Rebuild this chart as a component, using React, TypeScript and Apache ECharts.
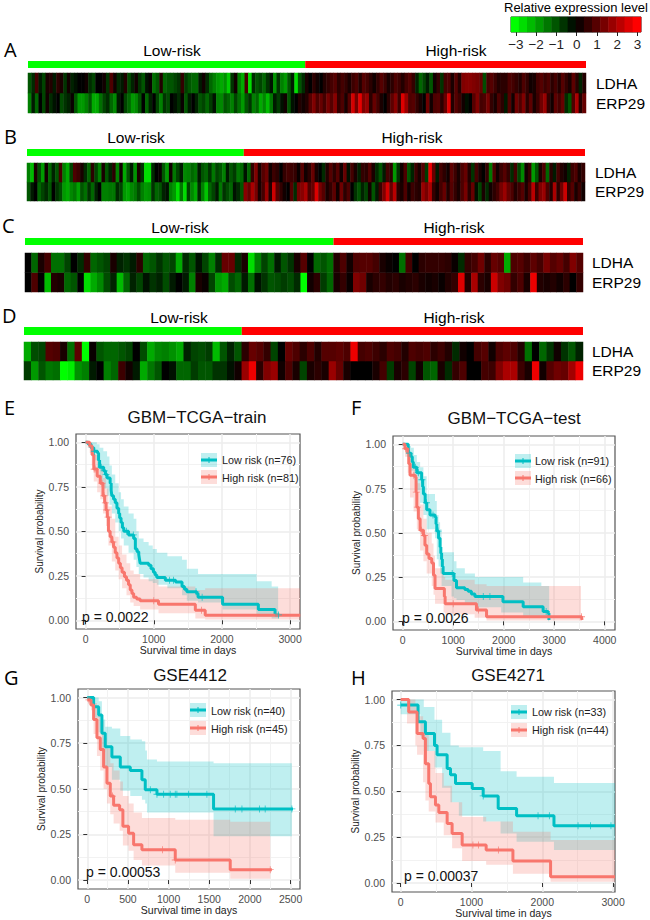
import React, { useEffect, useRef } from "react";
import * as echarts from "echarts";

const FONT = "'Liberation Sans', Arial, sans-serif";
const TEAL = "#00BFC4";
const RED = "#F8766D";

const geneRows = ["ERP29", "LDHA"];
const legendScale = [-3, -2.6, -2.2, -1.8, -1.4, -1, -0.6, -0.2, 0.2, 0.6, 1, 1.4, 1.8, 2.2, 2.6, 3];
const legendTicks = [-3, -2, -1, 0, 1, 2, 3];

const aLdhaLow = [
  -1, -0.5, 0.8, -0.3, -0.8, 0.3, 0.4, -0.3, 0.5, 0.3,
  -0.6, 0.2, -0.4, -0.2, 0, 0, 0.2, -0.5, -0.8, 0,
  0, 0.2, -0.6, 0.9, 0.2, -0.5, -0.3, 0.4, -0.9, -0.4,
  0.2, -0.6, -1, -0.2, 0.1, -1.3, -1, 0.4, -1.2, -1,
  -1, -0.8, -0.6, 0.6, -0.7, -1, -1.2, -1.2, -0.3, 0.2,
  -0.5, -1.2, -1.5, -1.8, -2, -1.7, -2.4, -0.6, 0.2, -1.5,
  -2, 0.8, -2.6, -0.5, -1, -0.8, -1.2, -0.6, -0.2, -1.7,
  -0.6, -1.5, -1.8, -1, -0.3, -2.6, -1, -0.5,
];
const aLdhaHigh = [
  0.3, 0, 0.5, 0.2, 0, 0.4, 0.6, 0.8, 1, 0.5,
  0.8, 0.6, 0.3, 0.7, 0.9, 0.4, 1, 0.8, 0.5, 0.2,
  0.6, 1, 0.7, 0.3, 0.5, 0.9, 0.7, 0.4, 0.8, 1,
  0.6, -0.4, -1.2, -0.8, -0.3, -1, 0.2, 0.6, -0.6, 0.8,
  0.9, 0.3, 1, 0.4, 1.5, 1.6, 1.6, 1.5, 1.4, 1.2,
  -0.9, 0.8, 1, 0.7, 0.4, 0.5, 0.5, 0.9, 0.8, 0.6,
  0.4, 0.9, 0.6, 0.2, 0.3, 0.8, 1, 0.7, 0.9, 0.5,
  0.8, 0.4, 1, 0.6, 0.3, 1.1, 0.5, -0.4, 0.4,
];
const aErpLow = [
  -1.5, -0.3, -1.2, 0, -0.8, 0.2, -0.5, -0.2, 0, -0.9,
  -0.6, -0.4, 0.1, -1, -1.8, -1.8, -1.5, -1, -2, -2,
  -1.3, -0.8, -0.5, -1.2, -1.6, -0.3, 0, -0.8, -1.2, -1.8,
  -1.6, -1, 0, -1.2, -0.4, 0, -0.8, -1.5, -0.6, -0.9,
  0, -0.2, -0.5, 0.1, -1, -0.3, 0, -0.4, -1, -0.8,
  -1.2, -0.7, -0.2, -1.5, -1.6, -1, -1.2, -1.5, -0.8, -1.3,
  -1.8, -1, -0.6, -1.5, -1.2, -2, -1.6, -2.2, -1.4, -0.3,
  -0.7, -0.2, 0.2, -1, -0.2, 0, 0.4, 0.2,
];
const aErpHigh = [
  0.4, 1, 1.5, 0.9, 1.2, 0.8, 1.4, 1, 1.6, 0.6,
  0.9, 0.3, 1, 2.5, 1.4, 2.7, 1.5, 1.8, 0.5, 1.2,
  0.8, 0.3, 0, 0.5, 1.1, 1.6, 0.7, 2.6, 1.8, 0.9,
  1, 0.6, 0.3, 0, 1.3, 0.2, 0.9, 1, 0.5, 1.2,
  2.6, 0.4, 1, 0.7, 0.2, -0.2, 0, 1, 1.5, 0.8,
  0.9, 1.4, 0.6, 0.3, 0.9, 0.5, -0.3, 1, 0.2, 1.3,
  0.9, 1.5, 0.5, 1.1, 0.3, 0.7, 1.3, 1.8, 0.6, 0.2,
  1.1, 0.8, 1.2, -0.5, -1, 0.9, 2, 0.4, 1.2,
];

const bLdhaLow = [
  -1.5, -2.2, 0.3, -0.9, -1.8, 0.2, -1.2, -0.4, -1, 0.8,
  -1.5, -2, -0.8, 0.9, 0.7, 0.3, -0.5, -1.2, 0.5, -0.8,
  -1.5, 0.3, -1, -0.4, 0.5, -1.5, 0.2, -2, -1, -0.3,
  -1.7, 0.3, -0.6, -2.6, -2.6, -0.5, 0, 0.1, -1, -1.8,
  0.2, -1.4, -0.8, -0.3, -1.6, -1.5, -1.2, -1.4, -0.3, -1,
  -1.2, -0.6, -1.4, -0.8, -1, -1.5, -0.3, -1, -0.7, -1.4,
  -1.2,
];
const bLdhaHigh = [
  -0.2, -1.2, 0.6, 1.5, 0.3, 1, 1.3, 0.2, 0.7, 0.5,
  0, 0.6, 0.8, 0.7, 0.6, 0.1, 1, 0.2, 0.5, 1.2,
  0.3, 0, -0.5, 0.4, 1, 0.5, 1, 0.2, 1.2, -0.2,
  0.8, 0.3, -0.4, 0.6, 0.5, 1, 0.3, -0.5, -1, -0.3,
  0.8, 0.5, -1.8, -0.6, 0.2, 0.9, -1, -0.4, 0.7, 0.3,
  1, -0.7, 2.8, 1.2, -0.3, 0.8, 0.5, 0.2, 1.1, 0.7,
  0.3, 0.9, 1.2, 0.4, -0.6, 0.8, 0.3, 0, 0.6, -1.4,
  0.9, 0.2, 0.7, 1, 0.6, -0.5, 0.8, -0.8, -1.6, 0.2,
  0.6, -1.8, -1, 0.3, 0.9, -1.2, 0.5, -0.3, 0.8, 0.4,
  0.2, -0.4, 0.7, 0.9, 0.3, 0.6,
];
const bErpLow = [
  -1, -0.3, 0, -1.2, -0.8, -0.5, -1, 0, -0.6, -0.9,
  -1.8, -2, -1.6, -1.4, -1.9, -1, -1.3, -0.6, -1.2, -0.4,
  0, -1.5, -1.5, -1.4, -1.4, -0.5, -0.8, -1.8, -2, -1.6,
  -1.4, -0.9, -1.5, -1.8, -1.7, -0.6, -1.2, -1, -0.4, -0.2,
  -1.5, -1.8, -2.6, -1.4, -2.6, -0.8, -1.6, -2, -0.5, -1.5,
  -2.3, -1.2, -0.8, -0.3, -1.4, -0.6, -0.9, -1.2, -0.2, -0.5,
  -1,
];
const bErpHigh = [
  1.6, 1.2, 2, 1.4, 0.3, 0.8, 1.8, 0.4, 2.4, 1,
  0.6, 0.2, 0, 1, -0.5, 1.4, 1.6, 2, 0.9, 1.2,
  2.6, 1.4, 1, 0.3, 0.6, 1.1, 0.2, 1.3, 0.5, 0.9,
  0, -0.6, -1, -0.4, -0.8, 0.2, -1, -0.3, 0.7, 1.5,
  2.5, 1.2, 2.2, 0.5, 0.3, 0.9, 0.2, 0.7, 0.5, 0.4,
  1.8, 1.4, 2, 0.6, 0.2, 0.8, 1.2, 0.4, 1, 0.6,
  0.3, 0.9, 1.4, 0.5, 1.2, -0.2, -0.8, 0.3, -0.5, 0.2,
  0.5, 0.8, 1.4, 1.8, 1.2, 0.9, 0.4, 0.7, 1, 0.3,
  0.9, 2.2, 0.7, 1.5, 1.8, 0.9, 0.4, 2, 0.5, 1.3,
  2.4, 0.6, 1, 0.3, 0.7, 0.2,
];

const cLdhaLow = [
  0, -1.2, 0.3, 0.8, -1.3, -1.3, -0.8, 0, -0.5, 0.6,
  -1.2, -1, -0.8, 0.3, -0.4, -0.6, -0.3, 0.5, -1.2, -1,
  -0.6, -1, -0.8, -2, -0.5, -1, -0.2, -0.8, -1.5, -0.5,
  1.2, 1.2, -0.5, 0.3, -2.6, -1.5, -0.8, -1.3, -0.3, -1,
  -0.6, 0.3, 1, 0, -1.2, -1, -1.3,
];
const cLdhaHigh = [
  0.4, 0.9, 0.2, 0.9, 1, 1, 0.8, 0.3, 0.1, 0,
  -1.3, 0.8, 0, 0.5, 0.6, 0.6, 0.6, 0.5, 0.1, -0.5,
  0.6, 0.8, 1.3, 0.5, 1.2, 1, -2, 0.9, 1, 0.7,
  1.1, 0.8, 1.4, 1, 1.2, 0.8, 1.5, 1,
];
const cErpLow = [
  0, 0.9, 0, -2.2, 0.4, 0.3, -1.2, -1, 0, -2.6,
  -2, -1.6, -0.9, -0.4, -2.2, -1.2, -0.4, -0.8, -0.2, -0.6,
  -0.4, -0.9, -0.3, 0, -0.3, -1.5, 0.3, 0.1, -0.8, -1.8,
  -2, -0.9, -1.2, -0.3, -1.3, -0.2, -0.6, -1, -0.9, -0.7,
  -0.9, -0.5, -3, 0.2, 0.5, -0.7, -1.2,
];
const cErpHigh = [
  0.3, 0.6, 0.1, 1.5, 1.3, 0.3, 0.5, 0.6, 0.4, 0.5,
  0.3, 0.4, 0.5, 0.3, 0.2, 0.3, 0.1, 0.4, 0.6, 2.6,
  0.4, 2, 0.5, 0.3, 2.4, 1.5, 1.3, 0.6, 0.9, 0.3,
  2.8, 0.4, 0.3, 0.4, 0.2, 0.5, 0, 0.6,
];

const dLdhaLow = [
  -2, -0.9, -0.8, 1, 0.9, 0.3, -1.3, 1.1, -3, 0.1,
  -1, -1.2, -1.2, -1, -0.8, 0, -0.9, -2, -1.6, -1.5,
  -1.7, -2, -0.4, -0.8, -0.9, -0.7, -2.2, -1, -0.4, -1,
];
const dLdhaHigh = [
  0.5, 1.2, 1, 0.6, -0.8, 0, 1.2, 0.9, 0.5, 0.9,
  0.4, 1, 1, 1.1, 0.9, 2.8, 0.8, 0.9, 0.7, 0.5,
  0.9, 0.8, 0.4, 0.9, 0.8, 0.9, 0.5, 0.7, 0.4, -0.5,
  0.2, 0, 0.8, 1, 0.2, 0.9, 1.1, 0.9, 0.4, -1.3,
  0, -1.2, -0.6, 0.2, -0.6, -1, -0.4,
];
const dErpLow = [
  -0.7, -1.8, -1, -1.4, -1.3, -3, -2.8, -1.7, -1.5, -0.3,
  0, -1.5, -1.2, 0.7, 0.2, -0.3, -2, -1.4, -1, 0,
  -0.2, -1.2, -1.2, -0.7, -1, -1, -0.6, -0.6, -0.2, 0.2,
];
const dErpHigh = [
  1.8, 2.8, 0.5, 1.5, 1.8, 0.2, 0.9, 0.3, -0.8, 0.3,
  0.5, 0.3, 1.8, 1.2, 0.3, 0, 0, 0, 0.3, 0.8,
  -0.7, 0.3, 0.5, -0.8, 0.2, -1, -1.2, 0.3, -0.5, 0.6,
  0.9, 0, 0, 0.8, 0.7, 1.5, 2, 2, 0.7, 0.3,
  2.8, 0.2, 1, 1.3, 1.2, 1.9, 2.8,
];

// survival curves: [day, probability]
const eLow = [[0,1],[40,0.99],[80,0.97],[120,0.95],[175,0.94],[190,0.9],[205,0.86],[265,0.84],[290,0.82],[315,0.8],[360,0.77],[375,0.73],[385,0.7],[410,0.68],[435,0.66],[460,0.63],[485,0.6],[500,0.575],[520,0.55],[540,0.52],[560,0.5],[630,0.48],[705,0.46],[730,0.4],[755,0.385],[780,0.37],[790,0.345],[800,0.32],[925,0.31],[960,0.29],[995,0.27],[1020,0.255],[1045,0.24],[1170,0.225],[1320,0.215],[1415,0.19],[1450,0.175],[1485,0.16],[1630,0.15],[1650,0.13],[1975,0.13],[2010,0.09],[2510,0.09],[2535,0.06],[2730,0.06],[2780,0.03],[2845,0.03]];
const eHigh = [[0,1],[60,0.98],[95,0.93],[120,0.85],[170,0.81],[215,0.77],[255,0.7],[280,0.66],[300,0.62],[318,0.58],[335,0.5],[360,0.47],[385,0.44],[410,0.41],[435,0.38],[460,0.35],[485,0.32],[510,0.295],[535,0.27],[570,0.245],[600,0.225],[630,0.2],[655,0.17],[680,0.15],[705,0.13],[750,0.12],[800,0.11],[1070,0.09],[1610,0.057],[1755,0.028],[3150,0.028]];
const fLow = [[0,1],[80,1],[110,0.95],[165,0.93],[190,0.9],[210,0.87],[280,0.84],[375,0.8],[395,0.76],[410,0.72],[445,0.67],[475,0.63],[540,0.6],[640,0.59],[660,0.55],[675,0.51],[710,0.47],[740,0.42],[755,0.385],[770,0.35],[785,0.31],[800,0.27],[965,0.27],[1015,0.23],[1065,0.19],[1230,0.18],[1295,0.17],[1360,0.155],[1430,0.14],[1950,0.14],[1985,0.11],[2350,0.11],[2385,0.083],[2745,0.083],[2780,0.055],[2880,0.045],[2895,0.008]];
const fHigh = [[0,1],[45,0.975],[100,0.95],[120,0.89],[145,0.825],[245,0.815],[265,0.73],[280,0.645],[310,0.58],[345,0.515],[410,0.485],[440,0.43],[475,0.38],[520,0.355],[575,0.33],[610,0.26],[640,0.185],[810,0.185],[825,0.14],[840,0.1],[1425,0.1],[1460,0.064],[1630,0.064],[1660,0.026],[3540,0.026],[3550,0.008]];
const gLow = [[0,1],[78,0.95],[140,0.905],[180,0.805],[221,0.73],[303,0.675],[406,0.62],[529,0.6],[672,0.55],[713,0.495],[857,0.47],[1553,0.39],[2530,0.39]];
const gHigh = [[0,0.987],[45,0.96],[78,0.88],[119,0.78],[160,0.715],[201,0.62],[242,0.53],[283,0.46],[324,0.41],[398,0.385],[438,0.295],[508,0.257],[570,0.193],[672,0.166],[1082,0.11],[1758,0.057],[2270,0.057]];
const hLow = [[0,0.97],[245,0.88],[278,0.88],[349,0.815],[477,0.75],[514,0.7],[585,0.7],[656,0.625],[703,0.59],[774,0.543],[1010,0.515],[1165,0.475],[1377,0.406],[1637,0.367],[2165,0.312],[3027,0.312]];
const hHigh = [[0,1],[89,1],[113,0.933],[207,0.933],[231,0.815],[316,0.788],[349,0.65],[396,0.543],[420,0.47],[491,0.425],[538,0.385],[608,0.385],[656,0.325],[726,0.27],[844,0.27],[868,0.207],[1207,0.18],[1585,0.12],[2117,0.034],[3027,0.034]];

// confidence bands: [day, lower, upper]
const eLowBand = [[0,1,1],[40,0.97,1],[80,0.93,1],[120,0.9,1],[165,0.85,0.99],[205,0.78,0.97],[260,0.74,0.95],[315,0.7,0.92],[350,0.65,0.87],[385,0.6,0.82],[435,0.55,0.77],[485,0.5,0.72],[520,0.46,0.68],[560,0.42,0.64],[630,0.38,0.6],[705,0.34,0.57],[745,0.3,0.5],[780,0.26,0.46],[850,0.24,0.44],[925,0.22,0.42],[985,0.21,0.4],[1045,0.2,0.38],[1200,0.18,0.36],[1415,0.14,0.34],[1485,0.11,0.29],[1650,0.1,0.26],[2010,0.06,0.26],[2510,0.02,0.22],[2730,0.01,0.19],[2825,0.01,0.19]];
const eHighBand = [[0,1,1],[30,0.97,1],[60,0.94,1],[90,0.87,0.98],[120,0.78,0.93],[170,0.72,0.9],[215,0.68,0.86],[255,0.6,0.8],[300,0.53,0.74],[335,0.42,0.64],[385,0.33,0.57],[435,0.28,0.47],[485,0.23,0.42],[535,0.18,0.37],[600,0.14,0.32],[655,0.1,0.28],[705,0.08,0.26],[800,0.06,0.23],[1070,0.04,0.19],[1610,0.01,0.17],[1755,0.005,0.18],[3150,0.005,0.18]];
const fLowBand = [[0,1,1],[80,0.93,1],[120,0.89,0.99],[165,0.85,0.98],[220,0.8,0.94],[280,0.74,0.9],[345,0.67,0.87],[410,0.6,0.82],[475,0.52,0.72],[640,0.47,0.68],[675,0.35,0.6],[710,0.31,0.56],[740,0.27,0.52],[770,0.2,0.39],[965,0.14,0.39],[1015,0.13,0.34],[1065,0.12,0.3],[1230,0.1,0.27],[1430,0.08,0.25],[1950,0.05,0.25],[2385,0.03,0.22],[2745,0.02,0.2],[2880,0,0.2],[2900,0,0.2]];
const fHighBand = [[0,1,1],[45,0.93,1],[100,0.84,0.98],[145,0.7,0.92],[215,0.62,0.86],[280,0.52,0.78],[345,0.4,0.66],[410,0.34,0.58],[475,0.27,0.5],[575,0.2,0.44],[610,0.15,0.37],[640,0.1,0.3],[810,0.05,0.25],[840,0.04,0.235],[1425,0.02,0.21],[1660,0.005,0.2],[3530,0.005,0.2]];
const gLowBand = [[0,1,1],[78,0.89,1],[140,0.81,0.98],[180,0.7,0.88],[221,0.62,0.84],[303,0.55,0.83],[406,0.49,0.79],[529,0.46,0.77],[672,0.44,0.76],[713,0.42,0.71],[734,0.37,0.66],[857,0.37,0.65],[1553,0.24,0.64],[2516,0.24,0.64]];
const gHighBand = [[0,1,1],[45,0.93,1],[78,0.8,0.97],[119,0.68,0.9],[160,0.6,0.87],[201,0.5,0.78],[242,0.42,0.72],[283,0.36,0.64],[324,0.31,0.6],[398,0.27,0.54],[438,0.19,0.46],[508,0.16,0.42],[570,0.11,0.37],[672,0.08,0.34],[1082,0.04,0.33],[1758,0.007,0.32],[2250,0.007,0.32]];
const hLowBand = [[0,0.92,1],[278,0.8,1],[326,0.72,0.96],[477,0.63,0.89],[585,0.52,0.82],[703,0.44,0.75],[821,0.367,0.74],[1165,0.335,0.72],[1411,0.27,0.61],[1637,0.225,0.58],[2165,0.18,0.545],[3027,0.18,0.545]];
const hHighBand = [[0,1,1],[89,0.87,1],[207,0.75,0.97],[231,0.7,0.91],[316,0.55,0.87],[349,0.45,0.82],[396,0.39,0.72],[491,0.33,0.6],[608,0.26,0.53],[726,0.19,0.44],[868,0.12,0.36],[1207,0.1,0.335],[1585,0.05,0.28],[2117,0.007,0.234],[3027,0.007,0.234]];

// censoring ticks (days)
const eLowCensor = [130, 230, 275, 300, 600, 700, 1230, 1290, 1620, 1710, 2830];
const eHighCensor = [125, 140, 240, 270, 290, 310, 330, 400, 1000, 1700];
const fLowCensor = [130, 250, 310, 380, 470, 600, 700, 980, 1595, 1727, 2840];
const fHighCensor = [60, 220, 270, 290, 370, 430, 1000, 1500, 3540];
const gLowCensor = [775, 857, 939, 1020, 1082, 1102, 1246, 1471, 1820, 1902, 2119, 2188, 2516];
const gHighCensor = [20, 310, 926, 1082, 2250];
const hLowCensor = [0, 1165, 1940, 2100, 2505, 2680, 2970];
const hHighCensor = [1020, 1100, 1380];

const xMajor3000 = [0, 1000, 2000, 3000];
const xMinor3000 = [500, 1500, 2500];
const xMajor4000 = [0, 1000, 2000, 3000, 4000];
const xMinor4000 = [500, 1500, 2500, 3500];
const xMajor2500 = [0, 500, 1000, 1500, 2000, 2500];
const xMinor2500 = [250, 750, 1250, 1750, 2250];
const yMajor = [0, 0.25, 0.5, 0.75, 1];
const yMinor = [0.125, 0.375, 0.625, 0.875];

const heatPanels = [
  { letter: "A", lx: 4, ly: 49, lowX: 172, highX: 456, labelY: 50, left: 28, right: 586, barTop: 61, barH: 7, top: 73, h: 40, geneX: 10, shift: 3, low: [aLdhaLow, aErpLow], high: [aLdhaHigh, aErpHigh] },
  { letter: "B", lx: 4, ly: 136, lowX: 136, highX: 412, labelY: 137, left: 27, right: 585, barTop: 149, barH: 7, top: 163, h: 38, geneX: 10, shift: 0, low: [bLdhaLow, bErpLow], high: [bLdhaHigh, bErpHigh] },
  { letter: "C", lx: 2, ly: 225, lowX: 180, highX: 454, labelY: 227, left: 25, right: 583, barTop: 238, barH: 7, top: 253, h: 39, geneX: 9, shift: 3, low: [cLdhaLow, cErpLow], high: [cLdhaHigh, cErpHigh] },
  { letter: "D", lx: 2, ly: 315, lowX: 179, highX: 454, labelY: 317, left: 24, right: 583, barTop: 327, barH: 8, top: 342, h: 38, geneX: 9, shift: 3, low: [dLdhaLow, dErpLow], high: [dLdhaHigh, dErpHigh] },
];

const kmPanels = [
  { letter: "E", lx: 4, ly: 407, title: "GBM\u2212TCGA\u2212train", tx: 197, ty: 417, p: "p = 0.0022", px: 82, py: 617, left: 76, top: 434, right: 300, bottom: 629, xMin: -141, xMax: 3146, xMajor: xMajor3000, xMinor: xMinor3000, low: eLow, high: eHigh, lowBand: eLowBand, highBand: eHighBand, lowC: eLowCensor, highC: eHighCensor, lowN: "Low risk (n=76)", highN: "High risk (n=81)", kx: 201, ky1: 453, ky2: 470, ty1: 459.5, ty2: 477.5, textX: 222, nameY: 31 },
  { letter: "F", lx: 351, ly: 407, title: "GBM\u2212TCGA\u2212test", tx: 514, ty: 418, p: "p = 0.0026", px: 402, py: 618, left: 393, top: 436, right: 615, bottom: 630, xMin: -192, xMax: 4203, xMajor: xMajor4000, xMinor: xMinor4000, low: fLow, high: fHigh, lowBand: fLowBand, highBand: fHighBand, lowC: fLowCensor, highC: fHighCensor, lowN: "Low risk (n=91)", highN: "High risk (n=66)", kx: 515, ky1: 454, ky2: 471, ty1: 461, ty2: 479, textX: 535, nameY: 31 },
  { letter: "G", lx: 4, ly: 677, title: "GSE4412", tx: 190, ty: 675, p: "p = 0.00053", px: 86, py: 872, left: 78, top: 689, right: 300, bottom: 889, xMin: -114, xMax: 2616, xMajor: xMajor2500, xMinor: xMinor2500, low: gLow, high: gHigh, lowBand: gLowBand, highBand: gHighBand, lowC: gLowCensor, highC: gHighCensor, lowN: "Low risk (n=40)", highN: "High risk (n=45)", kx: 190, ky1: 703, ky2: 721, ty1: 710.5, ty2: 728.5, textX: 211, nameY: 31 },
  { letter: "H", lx: 351, ly: 677, title: "GSE4271", tx: 508, ty: 675, p: "p = 0.00037", px: 404, py: 876, left: 392, top: 691, right: 615, bottom: 892, xMin: -123, xMax: 3027, xMajor: xMajor3000, xMinor: xMinor3000, low: hLow, high: hHigh, lowBand: hLowBand, highBand: hHighBand, lowC: hLowCensor, highC: hHighCensor, lowN: "Low risk (n=33)", highN: "High risk (n=44)", kx: 511, ky1: 705, ky2: 723, ty1: 712, ty2: 730, textX: 532, nameY: 31 },
];

const PLUS = "path://M4.4,0H5.6V4.4H10V5.6H5.6V10H4.4V5.6H0V4.4H4.4Z";

function stepValue(curve: number[][], x: number) {
  let v = curve[0][1];
  for (const p of curve) {
    if (p[0] <= x) v = p[1];
  }
  return v;
}

function textEl(text: string, x: number, y: number, font: string, fill = "#000", align = "left") {
  return {
    type: "text",
    x,
    y,
    silent: true,
    style: { text, font, fill, textAlign: align, textVerticalAlign: "middle" },
  };
}

function bandSeries(name: string, rows: number[][], color: string, xi: number, yi: number) {
  return {
    type: "custom",
    name,
    xAxisIndex: xi,
    yAxisIndex: yi,
    silent: true,
    clip: true,
    z: 2,
    data: rows,
    encode: { x: 0, y: [1, 2] },
    renderItem: (params: any, api: any) => {
      if (params.dataIndex !== 0) return null;
      const points: number[][] = [];
      rows.forEach((r, i) => {
        if (i > 0) points.push(api.coord([r[0], rows[i - 1][2]]));
        points.push(api.coord([r[0], r[2]]));
      });
      for (let i = rows.length - 1; i >= 0; i--) {
        points.push(api.coord([rows[i][0], rows[i][1]]));
        if (i > 0) points.push(api.coord([rows[i][0], rows[i - 1][1]]));
      }
      return { type: "polygon", shape: { points }, style: { fill: color, opacity: 0.25 } };
    },
  };
}

function buildOption() {
  const grid: any[] = [];
  const xAxis: any[] = [];
  const yAxis: any[] = [];
  const series: any[] = [];
  const graphic: any[] = [];
  const heatIndices: number[] = [];

  // colour key
  grid.push({ left: 511, top: 17, width: 130, height: 15, show: true, borderColor: "#222", borderWidth: 1 });
  xAxis.push({ gridIndex: 0, type: "category", data: legendScale.map(String), show: false });
  yAxis.push({ gridIndex: 0, type: "category", data: ["key"], show: false });
  xAxis.push({
    gridIndex: 0, type: "value", min: -3.24, max: 3.17, position: "bottom",
    axisLine: { show: false },
    axisTick: { show: true, length: 4, customValues: legendTicks, lineStyle: { color: "#222" } },
    axisLabel: { customValues: legendTicks, margin: 5, fontFamily: FONT, fontSize: 13.5, color: "#222", formatter: (v: number) => String(v).replace("-", "\u2212") },
    splitLine: { show: false },
  });
  heatIndices.push(series.length);
  series.push({ type: "heatmap", name: "Relative expression level", xAxisIndex: 0, yAxisIndex: 0, data: legendScale.map((v, i) => [i, 0, v]), silent: true });
  graphic.push(textEl("Relative expression level", 504, 7.5, `13px ${FONT}`));

  // heat maps
  heatPanels.forEach((p) => {
    const cats = [...p.low[0], ...p.high[0]].map((_, i) => String(i));
    let gi = grid.length;
    grid.push({ left: p.left, top: p.barTop, width: p.right - p.left, height: p.barH });
    let xi = xAxis.length;
    const yi0 = yAxis.length;
    const lowN = p.low[0].length;
    const highN = p.high[0].length;
    xAxis.push({ gridIndex: gi, type: "value", min: 0, max: lowN + highN, show: false, splitLine: { show: false } });
    yAxis.push({ gridIndex: gi, type: "category", data: ["risk"], show: false });
    series.push({ type: "bar", name: "Low-risk", stack: `risk${p.letter}`, xAxisIndex: xi, yAxisIndex: yi0, data: [lowN], barWidth: "100%", itemStyle: { color: "#00FF00" }, silent: true });
    series.push({ type: "bar", name: "High-risk", stack: `risk${p.letter}`, xAxisIndex: xi, yAxisIndex: yi0, data: [highN], barWidth: "100%", itemStyle: { color: "#FF0000" }, silent: true });

    gi = grid.length;
    grid.push({ left: p.left, top: p.top, width: p.right - p.left, height: p.h });
    xi = xAxis.length;
    const yi = yAxis.length;
    xAxis.push({ gridIndex: gi, type: "category", data: cats, show: false });
    yAxis.push({
      gridIndex: gi, type: "category", data: geneRows, position: "right",
      axisLine: { show: false }, axisTick: { show: false },
      axisLabel: { interval: 0, margin: p.geneX, fontFamily: FONT, fontSize: 15.5, color: "#000", padding: [p.shift * 2 + 2, 0, 0, 0] },
    });
    const data: number[][] = [];
    [...p.low[1], ...p.high[1]].forEach((v, i) => data.push([i, 0, v]));
    [...p.low[0], ...p.high[0]].forEach((v, i) => data.push([i, 1, v]));
    heatIndices.push(series.length);
    series.push({ type: "heatmap", name: `Panel ${p.letter}`, xAxisIndex: xi, yAxisIndex: yi, data, silent: true });

    graphic.push(textEl(p.letter, p.lx, p.ly, `20px 'Open Sans', sans-serif`));
    graphic.push(textEl("Low-risk", p.lowX, p.labelY, `15.5px ${FONT}`, "#000", "center"));
    graphic.push(textEl("High-risk", p.highX, p.labelY, `15.5px ${FONT}`, "#000", "center"));
  });

  // survival panels
  kmPanels.forEach((p) => {
    const gi = grid.length;
    grid.push({ left: p.left, top: p.top, width: p.right - p.left, height: p.bottom - p.top, show: true, backgroundColor: "#fff", borderColor: "#555", borderWidth: 1.2 });
    const xi = xAxis.length;
    const yi = yAxis.length;
    const yMin = -0.049;
    const yMax = 1.047;
    const tick = { show: true, length: 4, lineStyle: { color: "#333" } };
    xAxis.push({
      gridIndex: gi, type: "value", min: p.xMin, max: p.xMax, position: "bottom",
      name: "Survival time in days", nameLocation: "middle", nameGap: 12,
      nameTextStyle: { fontFamily: FONT, fontSize: 10.5, color: "#222" },
      axisLine: { show: false },
      axisTick: { ...tick, customValues: p.xMajor },
      axisLabel: { customValues: p.xMajor, margin: 4, fontFamily: FONT, fontSize: 10.5, color: "#4D4D4D", formatter: (v: number) => String(v) },
      splitLine: { show: true, lineStyle: { color: "#ECECEC", width: 1.5 } },
    });
    xAxis.push({
      gridIndex: gi, type: "value", min: p.xMin, max: p.xMax, position: "bottom",
      axisLine: { show: false },
      axisTick: { show: false, customValues: p.xMinor },
      axisLabel: { show: false, customValues: p.xMinor },
      splitLine: { show: true, lineStyle: { color: "#F2F2F2", width: 1 } },
    });
    yAxis.push({
      gridIndex: gi, type: "value", min: yMin, max: yMax, position: "left",
      name: "Survival probability", nameLocation: "middle", nameGap: p.nameY,
      nameTextStyle: { fontFamily: FONT, fontSize: 10, color: "#222" },
      axisLine: { show: false },
      axisTick: { ...tick, customValues: yMajor },
      axisLabel: { customValues: yMajor, margin: 7, fontFamily: FONT, fontSize: 10.5, color: "#4D4D4D", formatter: (v: number) => v.toFixed(2) },
      splitLine: { show: true, lineStyle: { color: "#ECECEC", width: 1.5 } },
    });
    yAxis.push({
      gridIndex: gi, type: "value", min: yMin, max: yMax, position: "left",
      axisLine: { show: false },
      axisTick: { show: false, customValues: yMinor },
      axisLabel: { show: false, customValues: yMinor },
      splitLine: { show: true, lineStyle: { color: "#F2F2F2", width: 1 } },
    });

    series.push(bandSeries("Low risk CI", p.lowBand, TEAL, xi, yi));
    series.push(bandSeries("High risk CI", p.highBand, RED, xi, yi));
    const line = (name: string, data: number[][], color: string) => ({
      type: "line", name, xAxisIndex: xi, yAxisIndex: yi, data, step: "end", showSymbol: false, symbol: "none",
      lineStyle: { color, width: 3 }, z: 3, silent: true,
    });
    const ticks = (name: string, xs: number[], curve: number[][], color: string) => ({
      type: "scatter", name, xAxisIndex: xi, yAxisIndex: yi, data: xs.map((x) => [x, stepValue(curve, x)]),
      symbol: PLUS, symbolSize: 7, itemStyle: { color }, z: 4, silent: true,
    });
    series.push(line("Low risk", p.low, TEAL));
    series.push(line("High risk", p.high, RED));
    series.push(ticks("Low risk censored", p.lowC, p.low, TEAL));
    series.push(ticks("High risk censored", p.highC, p.high, RED));

    graphic.push(textEl(p.letter, p.lx, p.ly, `20px 'Open Sans', sans-serif`));
    graphic.push(textEl(p.title, p.tx, p.ty, `17px ${FONT}`, "#111", "center"));
    graphic.push({ ...textEl(p.p, p.px, p.py, `14px ${FONT}`, "#111"), z: 20 });
    [[p.ky1, p.ty1, TEAL, p.lowN], [p.ky2, p.ty2, RED, p.highN]].forEach(([ky, ty, color, label]: any) => {
      graphic.push({ type: "rect", z: 20, silent: true, shape: { x: p.kx, y: ky, width: 16, height: 14 }, style: { fill: color, opacity: 0.25 } });
      graphic.push({ type: "line", z: 21, silent: true, shape: { x1: p.kx, y1: ky + 7, x2: p.kx + 16, y2: ky + 7 }, style: { stroke: color, lineWidth: 3 } });
      graphic.push({ type: "line", z: 21, silent: true, shape: { x1: p.kx + 8, y1: ky + 4, x2: p.kx + 8, y2: ky + 10 }, style: { stroke: color, lineWidth: 1 } });
      graphic.push({ ...textEl(label, p.textX, ty, `10.8px ${FONT}`, "#222"), z: 21 });
    });
  });

  return {
    animation: false,
    backgroundColor: "#fff",
    grid,
    xAxis,
    yAxis,
    series,
    graphic,
    visualMap: {
      show: false, type: "continuous", min: -3, max: 3, seriesIndex: heatIndices,
      inRange: { color: ["#00FF00", "#000000", "#FF0000"] },
    },
  };
}

export default function App() {
  const ref = useRef<HTMLDivElement>(null);
  useEffect(() => {
    document.body.style.margin = "0";
    const chart = echarts.init(ref.current!, null, { renderer: "svg" });
    chart.setOption(buildOption() as any);
    return () => chart.dispose();
  }, []);
  return <div ref={ref} style={{ width: 650, height: 920 }} />;
}
